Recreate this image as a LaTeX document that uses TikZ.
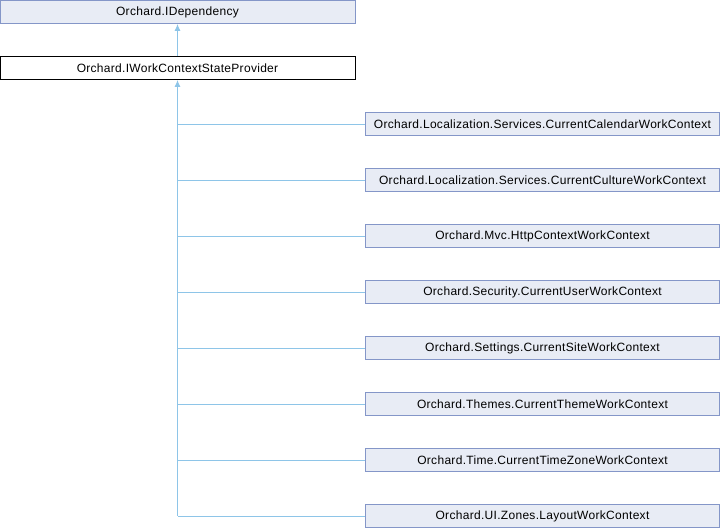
\documentclass[tikz,border=0pt]{standalone}
\usepackage{fontspec}
\setmainfont{Liberation Sans}[LetterSpace=2.5]
\usetikzlibrary{arrows.meta}
\definecolor{boxfill}{HTML}{E8ECF5}
\definecolor{boxdraw}{HTML}{8496C8}
\definecolor{edgecol}{HTML}{8EC5E8}
\tikzset{
  cls/.style={draw=boxdraw, fill=boxfill, line width=0.9pt, minimum height=23pt, inner sep=0pt, font=\fontsize{12}{14}\selectfont},
  topcls/.style={cls, minimum width=355pt},
  sub/.style={cls, minimum width=354pt},
  cur/.style={cls, draw=black, fill=white},
  inh/.style={draw=edgecol, line width=0.9pt, -{Latex[length=7pt,width=6pt]}},
  plain/.style={draw=edgecol, line width=0.9pt}
}
\begin{document}
\begin{tikzpicture}[x=1pt,y=-1pt]
\useasboundingbox (0,0) rectangle (720,528);
\node[topcls] (dep) at (177.5,12) {Orchard.IDependency};
\node[topcls, cur] (wcsp) at (177.5,68) {Orchard.IWorkContextStateProvider};
\node[sub] (c1) at (542.5,124) {Orchard.Localization.Services.CurrentCalendarWorkContext};
\node[sub] (c2) at (542.5,180) {Orchard.Localization.Services.CurrentCultureWorkContext};
\node[sub] (c3) at (542.5,236) {Orchard.Mvc.HttpContextWorkContext};
\node[sub] (c4) at (542.5,292) {Orchard.Security.CurrentUserWorkContext};
\node[sub] (c5) at (542.5,348) {Orchard.Settings.CurrentSiteWorkContext};
\node[sub] (c6) at (542.5,404) {Orchard.Themes.CurrentThemeWorkContext};
\node[sub] (c7) at (542.5,460) {Orchard.Time.CurrentTimeZoneWorkContext};
\node[sub] (c8) at (542.5,516) {Orchard.UI.Zones.LayoutWorkContext};
\draw[inh] (wcsp.north) -- (dep.south);
\coordinate (j8) at (177.5,516);
\foreach \i in {1,...,7} {
  \draw[plain] (c\i.west) -- (wcsp.south |- c\i.west);
}
\draw[plain] (c8.west) -- (j8);
\draw[inh] (j8) -- (wcsp.south);
\end{tikzpicture}
\end{document}
